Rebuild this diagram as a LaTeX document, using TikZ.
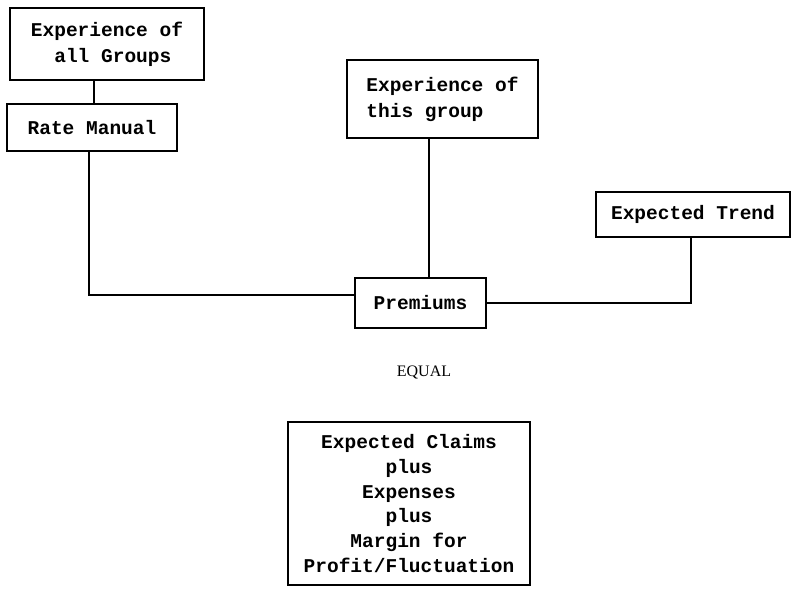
\documentclass[tikz,border=0pt]{standalone}
\usepackage{fontspec}
\setmonofont{Liberation Mono}
\newfontfamily\eqfont{Liberation Serif}
\begin{document}
\begin{tikzpicture}[x=1pt,y=-1pt,
  box/.style={draw, line width=1.5pt, rectangle, inner sep=0pt, font=\ttfamily\bfseries\fontsize{19.5}{26}\selectfont},
  conn/.style={line width=1.5pt}]
\useasboundingbox (0,0) rectangle (800,592);
\node[box, minimum width=194pt, minimum height=72pt, align=left] (allg) at (107,44) {Experience of\\\phantom{xx}all Groups};
\node[box, minimum width=170pt, minimum height=47pt] (rm) at (92,127.5) {Rate Manual};
\node[box, minimum width=191pt, minimum height=78pt, align=left] (thisg) at (442.5,99) {Experience of\\this group};
\node[box, minimum width=194pt, minimum height=45pt] (trend) at (693,214.5) {Expected Trend};
\node[box, minimum width=131pt, minimum height=50pt] (prem) at (420.5,303) {Premiums};
\node[font=\eqfont\fontsize{16}{18}\selectfont] (equal) at (424,372) {EQUAL};
\node[box, minimum width=242pt, minimum height=163pt, align=center,
      font=\ttfamily\bfseries\fontsize{19.5}{24.8}\selectfont] (sum) at (409,503.5)
  {Expected Claims\\plus\\Expenses\\plus\\Margin for\\Profit/Fluctuation};
\draw[conn] ([xshift=-13pt]allg.south) -- ([xshift=-13pt]allg.south |- rm.north);
\draw[conn] ([xshift=-3pt]rm.south) |- ([yshift=8pt]prem.west);
\draw[conn] ([xshift=8.5pt]prem.north) -- ([xshift=8.5pt]prem.north |- thisg.south);
\draw[conn] (prem.east) -| ([xshift=-2pt]trend.south);
\end{tikzpicture}
\end{document}
